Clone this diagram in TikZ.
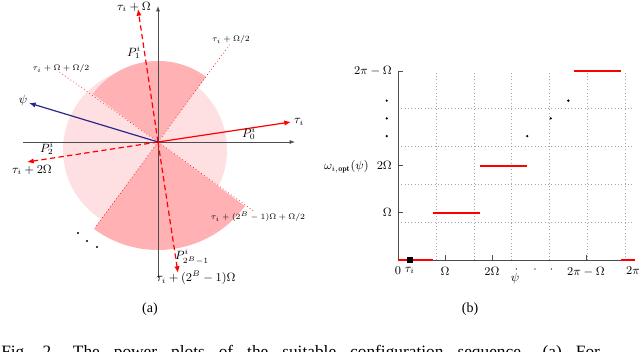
\documentclass[tikz,border=0pt]{standalone}
\usepackage{fontspec}
\newfontfamily\capfont{Liberation Serif}
\usetikzlibrary{arrows.meta}
\definecolor{lightpk}{RGB}{255,224,226}
\definecolor{darkpk}{RGB}{255,177,180}
\definecolor{navy}{RGB}{40,40,140}
\tikzset{
  lbl/.style={inner sep=0pt, font=\fontsize{9}{10}\selectfont},
  tinylbl/.style={inner sep=0pt, font=\fontsize{6}{7}\selectfont},
  axisline/.style={black!70, line width=0.6pt},
  axisarrow/.style={axisline, -{Latex[length=4pt,width=3pt]}},
  dir/.style={red, line width=0.9pt, dash pattern=on 4pt off 2.5pt, -{Latex[length=5pt,width=4pt]}},
  bound/.style={red, line width=0.5pt, dotted},
  plotlbl/.style={inner sep=0pt, font=\fontsize{9}{10}\selectfont},
  redseg/.style={red, line width=1.6pt},
  sub/.style={inner sep=0pt, font=\capfont\fontsize{10.5}{12}\selectfont},
}
\begin{document}
\begin{tikzpicture}[x=0.75pt,y=-0.75pt]
\useasboundingbox (0,0) rectangle (640,352);
\clip (0,0) rectangle (640,352);
% ---------- (a) ----------
\coordinate (O) at (158,142);
\fill[lightpk] (145,150) circle[radius=82];
\fill[darkpk] (O) -- +(-53.6:81) arc[start angle=-53.6, end angle=-143.6, radius=81] -- cycle;
\fill[darkpk] (O) -- +(-233.6:108) arc[start angle=-233.6, end angle=-323.6, radius=108] -- cycle;
% axes
\coordinate (xl) at (23,142);
\coordinate (xr) at (295,142);
\coordinate (yb) at (158,278);
\coordinate (yt) at (158,6);
\draw[axisarrow] (xl) -- (xr);
\draw[axisarrow] (yb) -- (yt);
% boundary lines
\coordinate (b1) at (230,44);
\coordinate (b2) at (58,71);
\coordinate (b3) at (255,212);
\coordinate (b4) at (95,228);
\draw[bound] (O) -- (b1);
\draw[bound] (O) -- (b2);
\draw[bound] (O) -- (b3);
\draw[bound] (O) -- (b4);
% direction arrows
\coordinate (t0) at (291,122);
\coordinate (t1) at (138,9);
\coordinate (t2) at (27,162);
\coordinate (t3) at (178,273);
\coordinate (tp) at (29,103);
\draw[red, line width=0.9pt, -{Latex[length=5pt,width=4pt]}] (O) -- (t0);
\draw[dir] (O) -- (t1);
\draw[dir] (O) -- (t2);
\draw[dir] (O) -- (t3);
\draw[navy, line width=0.9pt, -{Latex[length=5pt,width=4pt]}] (O) -- (tp);
% labels
\node[lbl] (l1) at (134,7) {$\tau_i+\Omega$};
\node[tinylbl] (l2) at (231,40) {$\tau_i+\Omega/2$};
\node[lbl] (p1) at (134,52) {$P_1^i$};
\node[tinylbl] (l3) at (61,69) {$\tau_i+\Omega+\Omega/2$};
\node[lbl] (lpsi) at (23,101) {$\psi$};
\node[lbl] (l0) at (299,122) {$\tau_i$};
\node[lbl] (p0) at (249,133) {$P_0^i$};
\node[lbl] (p2) at (47,148) {$P_2^i$};
\node[lbl] (l4) at (32,170) {$\tau_i+2\Omega$};
\node[tinylbl] (l5) at (258,217) {$\tau_i+(2^B-1)\Omega+\Omega/2$};
\node[lbl] (p3) at (192,257) {$P_{2^B-1}^i$};
\node[lbl] (l6) at (196,278) {$\tau_i+(2^B-1)\Omega$};
\fill (78,233) circle[radius=1.1];
\fill (87,241) circle[radius=1.1];
\fill (97,247) circle[radius=1.1];
% ---------- (b) ----------
\begin{scope}[shift={(398,260)}, x=17.625pt, y=17.7pt]
  \draw[gray!70, dotted, line width=0.5pt] (0,0) grid (10,8);
  \draw[axisline] (0,0) -- (0,8);
  \draw[axisline] (0,0) -- (10.1,0);
  \foreach \k in {2,4,8} {
    \draw[axisline] (\k,0) -- (\k,0.2);
    \draw[axisline] (0,\k) -- (0.2,\k);
  }
  \draw[redseg] (0,0) -- (1.5,0);
  \draw[redseg] (1.5,2) -- (3.5,2);
  \draw[redseg] (3.5,4) -- (5.5,4);
  \draw[redseg] (7.5,8) -- (9.5,8);
  \draw[redseg] (9.5,0) -- (10.1,0);
  \fill (0.5,0) ++(-2.2pt,-2.2pt) rectangle ++(4.4pt,4.4pt);
  \fill (5.5,5.25) circle[radius=1pt];
  \fill (6.5,6) circle[radius=1pt];
  \fill (7.25,6.75) circle[radius=1pt];
  % x labels
  \node[plotlbl, anchor=north] (x0) at (0,-0.28) {$0$};
  \node[plotlbl, anchor=north] (x1) at (0.5,-0.28) {$\tau_i$};
  \node[plotlbl, anchor=north] (x2) at (2,-0.28) {$\Omega$};
  \node[plotlbl, anchor=north] (x3) at (4,-0.28) {$2\Omega$};
  \node[plotlbl, anchor=north] (xd1) at (5.05,-0.28) {$\cdot$};
  \node[plotlbl, anchor=north] (xd2) at (5.83,-0.28) {$\cdot$};
  \node[plotlbl, anchor=north] (xd3) at (6.54,-0.28) {$\cdot$};
  \node[plotlbl, anchor=north] (x4) at (8,-0.28) {$2\pi-\Omega$};
  \node[plotlbl, anchor=north] (x5) at (10,-0.28) {$2\pi$};
  \node[plotlbl] (xlab) at (4.98,-0.8) {$\psi$};
  % y labels
  \node[plotlbl, anchor=east] (y1) at (-0.25,2) {$\Omega$};
  \node[plotlbl, anchor=east] (y2) at (-0.25,4) {$2\Omega$};
  \node[plotlbl, anchor=east] (y3) at (-0.25,8) {$2\pi-\Omega$};
  \fill (-0.48,6.75) circle[radius=0.9pt];
  \fill (-0.48,6.0) circle[radius=0.9pt];
  \fill (-0.48,5.25) circle[radius=0.9pt];
  \node[plotlbl] (ylab) at (-2.2,3.95) {$\omega_{i,\mathbf{opt}}(\psi)$};
\end{scope}
% ---------- captions ----------
\node[sub] (ca) at (150,309) {(a)};
\node[sub] (cb) at (470,309) {(b)};
\node[inner sep=0pt, anchor=base west, font=\capfont\fontsize{13}{15}\selectfont] (cap) at (1,358) {\makebox[449pt][s]{Fig.~2.\quad The power plots of the suitable configuration sequence.\quad (a) For}};
\end{tikzpicture}
\end{document}
